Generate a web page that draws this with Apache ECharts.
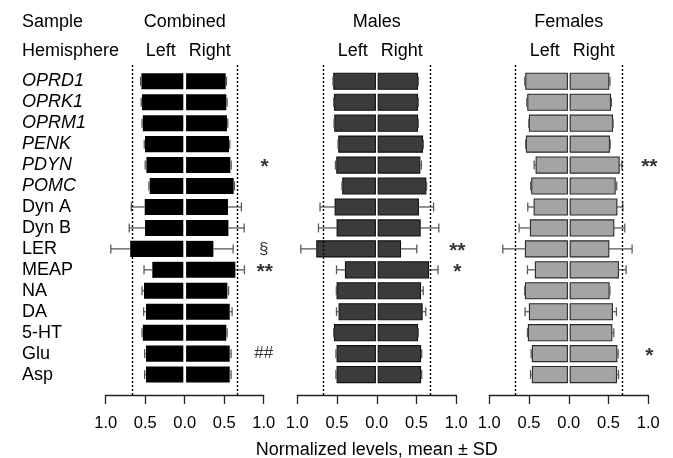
<!DOCTYPE html>
<html>
<head>
<meta charset="utf-8">
<script src="https://cdn.jsdelivr.net/npm/echarts@6/dist/echarts.min.js"></script>
<style>html,body{margin:0;padding:0;background:#fff}#c{width:673px;height:458px}</style>
</head>
<body>
<div id="c"></div>
<script>
// ---------- data ----------
const categories = ['OPRD1','OPRK1','OPRM1','PENK','PDYN','POMC','Dyn A','Dyn B','LER','MEAP','NA','DA','5-HT','Glu','Asp'];
const italicCount = 6; // first six are gene names
const tickValues = [-1, -0.5, 0, 0.5, 1];
const dottedLines = [-0.67, 0.67];

const combinedLeft    = [0.548,0.540,0.530,0.502,0.485,0.443,0.506,0.502,0.690,0.410,0.515,0.490,0.530,0.490,0.490];
const combinedLeftSD  = [0.010,0.010,0.010,0.010,0.015,0.010,0.170,0.200,0.245,0.105,0.025,0.030,0.010,0.017,0.017];
const combinedRight   = [0.519,0.527,0.535,0.561,0.578,0.620,0.548,0.553,0.363,0.641,0.540,0.570,0.527,0.570,0.570];
const combinedRightSD = [0.010,0.010,0.010,0.010,0.010,0.010,0.170,0.200,0.250,0.115,0.015,0.030,0.010,0.017,0.017];
const combinedSig     = ['','','','','*','','','','§','**','','','','##',''];

const malesLeft    = [0.541,0.532,0.528,0.478,0.503,0.428,0.524,0.499,0.755,0.394,0.499,0.474,0.532,0.499,0.499];
const malesLeftSD  = [0.010,0.010,0.010,0.010,0.017,0.010,0.190,0.235,0.200,0.113,0.010,0.033,0.010,0.015,0.015];
const malesRight   = [0.512,0.512,0.512,0.575,0.541,0.616,0.524,0.545,0.298,0.650,0.550,0.570,0.512,0.550,0.550];
const malesRightSD = [0.010,0.010,0.010,0.010,0.020,0.010,0.190,0.235,0.205,0.120,0.034,0.046,0.010,0.015,0.015];
const malesSig     = ['','','','','','','','','**','*','','','','',''];

const femalesLeft    = [0.541,0.516,0.495,0.533,0.411,0.466,0.436,0.482,0.545,0.420,0.545,0.495,0.508,0.458,0.458];
const femalesLeftSD  = [0.013,0.012,0.008,0.010,0.025,0.013,0.080,0.143,0.285,0.100,0.010,0.055,0.012,0.016,0.024];
const femalesRight   = [0.503,0.524,0.549,0.511,0.633,0.583,0.604,0.566,0.503,0.624,0.507,0.549,0.541,0.604,0.600];
const femalesRightSD = [0.015,0.012,0.008,0.010,0.035,0.020,0.075,0.138,0.293,0.097,0.010,0.050,0.025,0.017,0.025];
const femalesSig     = ['','','','','**','','','','','','','','','*',''];

// ---------- layout / style ----------
const FONT = '"Liberation Sans", Arial, Helvetica, sans-serif';
const panels = [
  {title:'Combined', left:105.7, width:158, fill:'#000000', stroke:null, L:combinedLeft, LSD:combinedLeftSD, R:combinedRight, RSD:combinedRightSD, sig:combinedSig},
  {title:'Males',    left:297.3, width:159, fill:'#3b3b3b', stroke:'#111111', L:malesLeft, LSD:malesLeftSD, R:malesRight, RSD:malesRightSD, sig:malesSig},
  {title:'Females',  left:489.3, width:159, fill:'#a4a4a4', stroke:'#2a2a2a', L:femalesLeft, LSD:femalesLeftSD, R:femalesRight, RSD:femalesRightSD, sig:femalesSig}
];
const GRID_TOP = 70.8, ROW = 20.95;
const GRID_H = ROW * categories.length;

const grid = [], xAxis = [], yAxis = [], series = [], graphic = [];

function makeRender(p) {
  return function (params, api) {
    const v = api.value(0), cat = api.value(1), sd = api.value(2);
    const dir = v < 0 ? -1 : 1;
    const p0 = api.coord([0, cat]);
    const p1 = api.coord([v, cat]);
    const pe = api.coord([v + dir * sd, cat]);
    const h = api.size([0, 1])[1] * 0.765;
    const x0 = p0[0] + dir * 1.4;
    const cy = p0[1];
    const children = [];
    children.push({
      type: 'rect',
      shape: {x: Math.min(x0, p1[0]), y: cy - h / 2, width: Math.abs(p1[0] - x0), height: h},
      style: {fill: p.fill, stroke: p.stroke || null, lineWidth: p.stroke ? 1.1 : 0}
    });
    children.push({type: 'line', shape: {x1: p1[0], y1: cy, x2: pe[0], y2: cy}, style: {stroke: '#5a5a5a', lineWidth: 1.3}});
    children.push({type: 'line', shape: {x1: pe[0], y1: cy - 4.5, x2: pe[0], y2: cy + 4.5}, style: {stroke: '#5a5a5a', lineWidth: 1.3}});
    return {type: 'group', children: children};
  };
}

panels.forEach((p, k) => {
  const gi = k * 2;
  grid.push({left: p.left, width: p.width, top: GRID_TOP, height: GRID_H, outerBoundsMode: 'none', containLabel: false});
  grid.push({left: p.left, width: p.width, top: 65, height: 330, outerBoundsMode: 'none', containLabel: false});

  xAxis.push({
    gridIndex: gi, type: 'value', min: -1, max: 1, interval: 0.5, offset: 10,
    axisLine: {show: true, lineStyle: {color: '#222', width: 1.3}},
    axisTick: {show: true, length: 9, lineStyle: {color: '#222', width: 1.3}},
    axisLabel: {fontSize: 16.5, fontFamily: FONT, color: '#000', margin: 20, formatter: v => Math.abs(v).toFixed(1)},
    splitLine: {show: false},
    name: k === 1 ? 'Normalized levels, mean ± SD' : '',
    nameLocation: 'middle', nameGap: 46,
    nameTextStyle: {fontSize: 18, fontFamily: FONT, color: '#000'}
  });
  xAxis.push({gridIndex: gi + 1, type: 'value', min: -1, max: 1, show: false});

  yAxis.push({
    gridIndex: gi, type: 'category', data: categories, inverse: true,
    axisLine: {show: false}, axisTick: {show: false}, splitLine: {show: false},
    axisLabel: k === 0 ? {
      show: true, align: 'left', margin: p.left - 22,
      formatter: (val, idx) => (idx < italicCount ? '{i|' + val + '}' : '{n|' + val + '}'),
      rich: {
        i: {fontStyle: 'italic', fontSize: 18, fontFamily: FONT, color: '#000'},
        n: {fontSize: 18, fontFamily: FONT, color: '#000'}
      }
    } : {show: false}
  });
  yAxis.push({gridIndex: gi + 1, type: 'value', min: 0, max: 1, show: false});

  const data = [];
  categories.forEach((c, i) => {
    data.push([-p.L[i], i, p.LSD[i]]);
    data.push([p.R[i], i, p.RSD[i]]);
  });
  series.push({
    type: 'custom', xAxisIndex: gi, yAxisIndex: gi, renderItem: makeRender(p),
    encode: {x: 0, y: 1}, data: data, clip: false, silent: true
  });

  // significance marks at x = 1.0
  const sigData = [];
  p.sig.forEach((s, i) => {
    if (s) sigData.push({
      value: [1.0, i], name: s,
      label: s.indexOf('*') >= 0 ? {fontSize: 21, fontWeight: 'bold', offset: [1, 2.5]} : {fontSize: 17, offset: [0, 0]}
    });
  });
  series.push({
    type: 'scatter', xAxisIndex: gi, yAxisIndex: gi, symbolSize: 0.1, data: sigData, silent: true,
    itemStyle: {color: 'rgba(0,0,0,0)'},
    label: {show: true, position: 'inside', formatter: '{b}', color: '#000', fontFamily: FONT}
  });

  // dotted reference lines
  series.push({
    type: 'line', xAxisIndex: gi + 1, yAxisIndex: gi + 1, data: [], silent: true,
    markLine: {
      symbol: 'none', silent: true, label: {show: false},
      lineStyle: {type: [2, 2], color: '#000', width: 1.4},
      data: dottedLines.map(x => ({xAxis: x}))
    }
  });

  // headers
  const cx = p.left + p.width / 2;
  graphic.push({type: 'text', x: cx, y: 22, style: {text: p.title, fontSize: 18, fontFamily: FONT, fill: '#000', textAlign: 'center', textVerticalAlign: 'middle'}});
  graphic.push({type: 'text', x: cx - 24, y: 51, style: {text: 'Left', fontSize: 18, fontFamily: FONT, fill: '#000', textAlign: 'center', textVerticalAlign: 'middle'}});
  graphic.push({type: 'text', x: cx + 25, y: 51, style: {text: 'Right', fontSize: 18, fontFamily: FONT, fill: '#000', textAlign: 'center', textVerticalAlign: 'middle'}});
});

graphic.push({type: 'text', x: 22, y: 22, style: {text: 'Sample', fontSize: 18, fontFamily: FONT, fill: '#000', textAlign: 'left', textVerticalAlign: 'middle'}});
graphic.push({type: 'text', x: 22, y: 51, style: {text: 'Hemisphere', fontSize: 18, fontFamily: FONT, fill: '#000', textAlign: 'left', textVerticalAlign: 'middle'}});

const chart = echarts.init(document.getElementById('c'), null, {renderer: 'canvas'});
chart.setOption({
  animation: false,
  backgroundColor: '#fff',
  grid: grid, xAxis: xAxis, yAxis: yAxis, series: series, graphic: graphic
});
</script>
</body>
</html>
